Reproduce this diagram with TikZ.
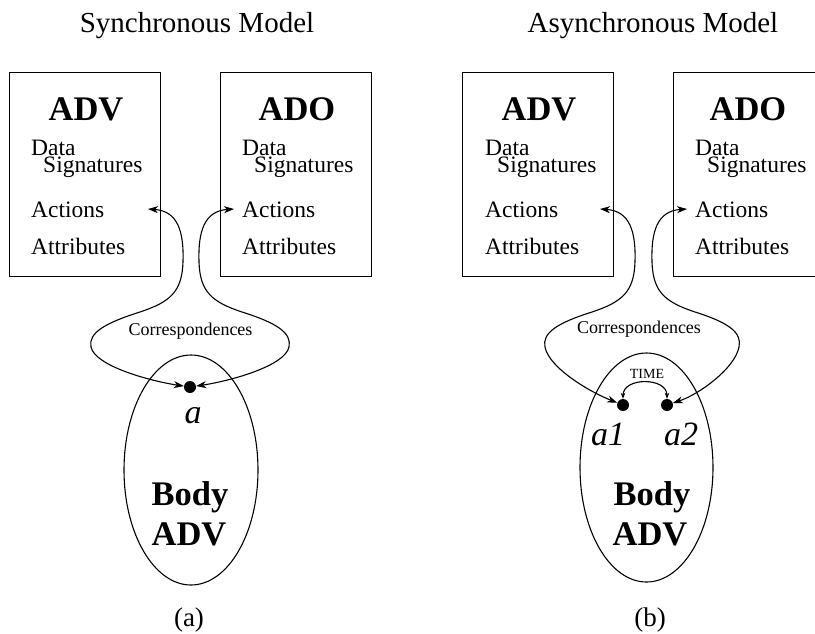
\documentclass[tikz,border=0pt]{standalone}
\usepackage{fontspec}
\setmainfont{Liberation Serif}
\usetikzlibrary{arrows.meta,shapes.geometric}
\begin{document}
\begin{tikzpicture}[x=1pt,y=-1pt,
  box/.style={draw, line width=1.2pt, minimum width=151pt, minimum height=204pt, inner sep=0pt, anchor=north west},
  heading/.style={font=\fontsize{29}{32}\selectfont, anchor=base, inner sep=0pt},
  boxhead/.style={font=\fontsize{34.5}{38}\selectfont\bfseries, anchor=base, inner sep=0pt},
  item/.style={font=\fontsize{23.5}{26}\selectfont, anchor=base west, inner sep=0pt},
  bodytext/.style={font=\fontsize{34.5}{38}\selectfont\bfseries, anchor=base, inner sep=0pt},
  evlabel/.style={font=\fontsize{34}{38}\selectfont\itshape, anchor=base, inner sep=0pt},
  small/.style={font=\fontsize{18}{20}\selectfont, anchor=base, inner sep=0pt},
  tiny/.style={font=\fontsize{14}{16}\selectfont, anchor=base, inner sep=0pt},
  caption/.style={font=\fontsize{27}{30}\selectfont, anchor=base, inner sep=0pt},
  body/.style={draw, ellipse, line width=1.1pt, inner sep=0pt},
  event/.style={circle, fill=black, minimum size=12pt, inner sep=0pt},
  corr/.style={line width=1.1pt, {Stealth[length=10pt,width=7pt,inset=3pt]}-{Stealth[length=10pt,width=7pt,inset=3pt]}},
  timearrow/.style={line width=1.1pt, {Stealth[length=6pt,width=4.5pt,inset=2pt]}-{Stealth[length=6pt,width=4.5pt,inset=2pt]}}
]
\clip (0,0) rectangle (815,633);

% ---------------- (a) Synchronous model ----------------
\node[heading] (titleA) at (197,32) {Synchronous Model};

\node[box] (advA) at (9,72) {};
\node[boxhead] (advAhead) at (86,120) {ADV};
\node[item] (advAdata) at (31,155) {Data};
\node[item] (advAsig) at (43,172) {Signatures};
\node[item] (advAact) at (31,217) {Actions};
\node[item] (advAattr) at (31,254) {Attributes};

\node[box] (adoA) at (220,72) {};
\node[boxhead] (adoAhead) at (297,120) {ADO};
\node[item] (adoAdata) at (242,155) {Data};
\node[item] (adoAsig) at (254,172) {Signatures};
\node[item] (adoAact) at (242,217) {Actions};
\node[item] (adoAattr) at (242,254) {Attributes};

\node[body, minimum width=134pt, minimum height=230pt] (bodyA) at (191,470) {};
\node[bodytext] (bodyAt1) at (190,505) {Body};
\node[bodytext] (bodyAt2) at (189,545) {ADV};

\node[event] (evA) at (190,387) {};
\node[evlabel] (evAlabel) at (193,423) {a};

\node[small] (corrA) at (190.5,335) {Correspondences};

\coordinate (tipA1) at (148,209);
\coordinate (tipA2) at (234,209);
\draw[corr] (tipA1) .. controls (178,211) and (184,232) .. (183,262)
  .. controls (182,292) and (170,302) .. (140,312)
  .. controls (105,323) and (88,333) .. (91,347)
  .. controls (95,366) and (150,381) .. (evA);
\draw[corr] (tipA2) .. controls (204,211) and (198,232) .. (199,262)
  .. controls (200,292) and (212,302) .. (242,312)
  .. controls (277,323) and (292,333) .. (289,347)
  .. controls (285,366) and (230,381) .. (evA);

\node[caption] (capA) at (189,626) {(a)};

% ---------------- (b) Asynchronous model ----------------
\node[heading] (titleB) at (653,32) {Asynchronous Model};

\node[box] (advB) at (462,72) {};
\node[boxhead] (advBhead) at (539,120) {ADV};
\node[item] (advBdata) at (485,155) {Data};
\node[item] (advBsig) at (497,172) {Signatures};
\node[item] (advBact) at (485,217) {Actions};
\node[item] (advBattr) at (485,254) {Attributes};

\node[box] (adoB) at (673,72) {};
\node[boxhead] (adoBhead) at (748,120) {ADO};
\node[item] (adoBdata) at (695,155) {Data};
\node[item] (adoBsig) at (707,172) {Signatures};
\node[item] (adoBact) at (695,217) {Actions};
\node[item] (adoBattr) at (695,254) {Attributes};

\node[body, minimum width=133pt, minimum height=229pt] (bodyB) at (646.5,467.5) {};
\node[bodytext] (bodyBt1) at (652,505) {Body};
\node[bodytext] (bodyBt2) at (650,545) {ADV};

\node[event] (evB1) at (623,405) {};
\node[event] (evB2) at (667,405) {};
\node[evlabel] (evB1label) at (608,445) {a1};
\node[evlabel] (evB2label) at (681,445) {a2};

\node[tiny] (timeB) at (647,378) {TIME};
\draw[timearrow] (evB1) .. controls (623,377) and (667,377) .. (evB2);

\node[small] (corrB) at (639,333) {Correspondences};

\coordinate (tipB1) at (600,209);
\coordinate (tipB2) at (687,209);
\draw[corr] (tipB1) .. controls (630,211) and (636,232) .. (635,262)
  .. controls (634,292) and (622,302) .. (592,312)
  .. controls (557,323) and (542,333) .. (545,347)
  .. controls (549,368) and (590,392) .. (evB1);
\draw[corr] (tipB2) .. controls (657,211) and (651,232) .. (652,262)
  .. controls (653,292) and (665,302) .. (695,312)
  .. controls (730,323) and (742,333) .. (739,347)
  .. controls (735,368) and (700,394) .. (evB2);

\node[caption] (capB) at (650,626) {(b)};
\end{tikzpicture}
\end{document}
